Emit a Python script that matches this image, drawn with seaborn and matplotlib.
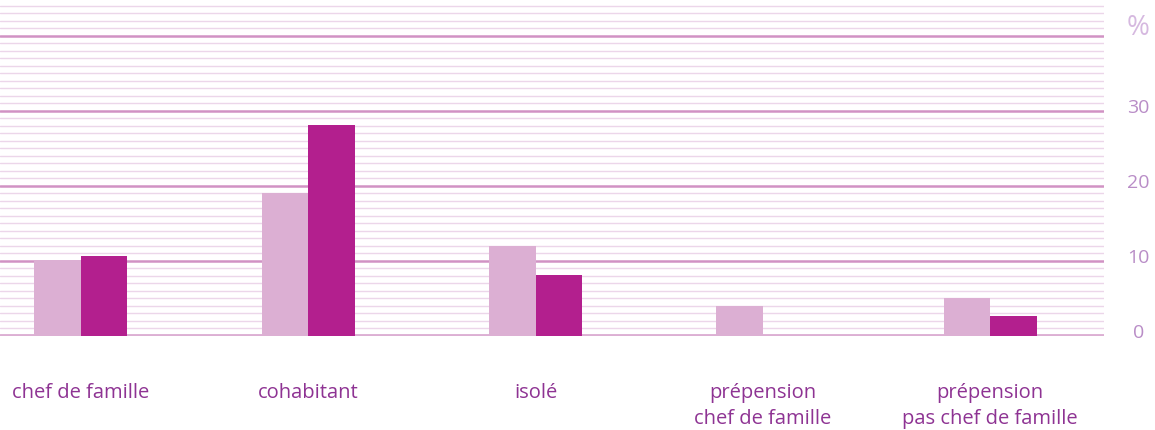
import numpy as np
import pandas as pd
import seaborn as sns
import matplotlib.pyplot as plt

categories = ['chef de famille', 'cohabitant', 'isolé',
              'prépension\nchef de famille', 'prépension\npas chef de famille']
series_names = ['a', 'b']
values_a = [10.1, 19.0, 12.0, 3.9, 5.0]
values_b = [10.6, 28.1, 8.1, 0.0, 2.6]
y_ticks = [0, 10, 20, 30]

df = pd.DataFrame({
    'categorie': categories * 2,
    'serie': [series_names[0]] * len(categories) + [series_names[1]] * len(categories),
    'valeur': values_a + values_b,
})

sns.set_style('white')
plt.rcParams['font.family'] = ['Open Sans', 'DejaVu Sans']

fig = plt.figure(figsize=(11.55, 4.31), dpi=100)
ax = fig.add_axes([0, 94.3 / 431, 1104 / 1155, 336.7 / 431])

# grid lines: minor every unit, major every 10
for v in range(1, 45):
    if v % 10 == 0:
        ax.axhline(v, color='#d192c4', lw=1.8, zorder=1)
    else:
        ax.axhline(v, color='#ecd6ea', lw=1.0, zorder=1)

sns.barplot(data=df, x='categorie', y='valeur', hue='serie',
            palette=['#dcafd3', '#b31f8e'], width=0.41, gap=0,
            saturation=1, legend=False, ax=ax, zorder=3, linewidth=0)

ax.axhline(0, color='#dcafd3', lw=3.5, zorder=2)

ax.set_xlim(-0.355, 4.5)
ax.set_ylim(0, 44.9)
ax.set_xlabel('')
ax.set_ylabel('')
ax.set_yticks([])
ax.tick_params(axis='x', length=0, pad=33, labelsize=14.5, labelcolor='#8e3393')
for lab in ax.get_xticklabels():
    lab.set_linespacing(1.45)
    lab.set_va('top')
for s in ax.spines.values():
    s.set_visible(False)

# right-side value labels
trans = ax.get_yaxis_transform()
for t in y_ticks:
    ax.text(1.031, t + 0.5, str(t), transform=trans, ha='center', va='center',
            fontsize=14, color='#b98dc7', clip_on=False)
ax.text(1.031, 41.2, '%', transform=trans, ha='center', va='center',
        fontsize=20, color='#d6b9e0', clip_on=False)

fig.savefig('out.png', dpi=100)
